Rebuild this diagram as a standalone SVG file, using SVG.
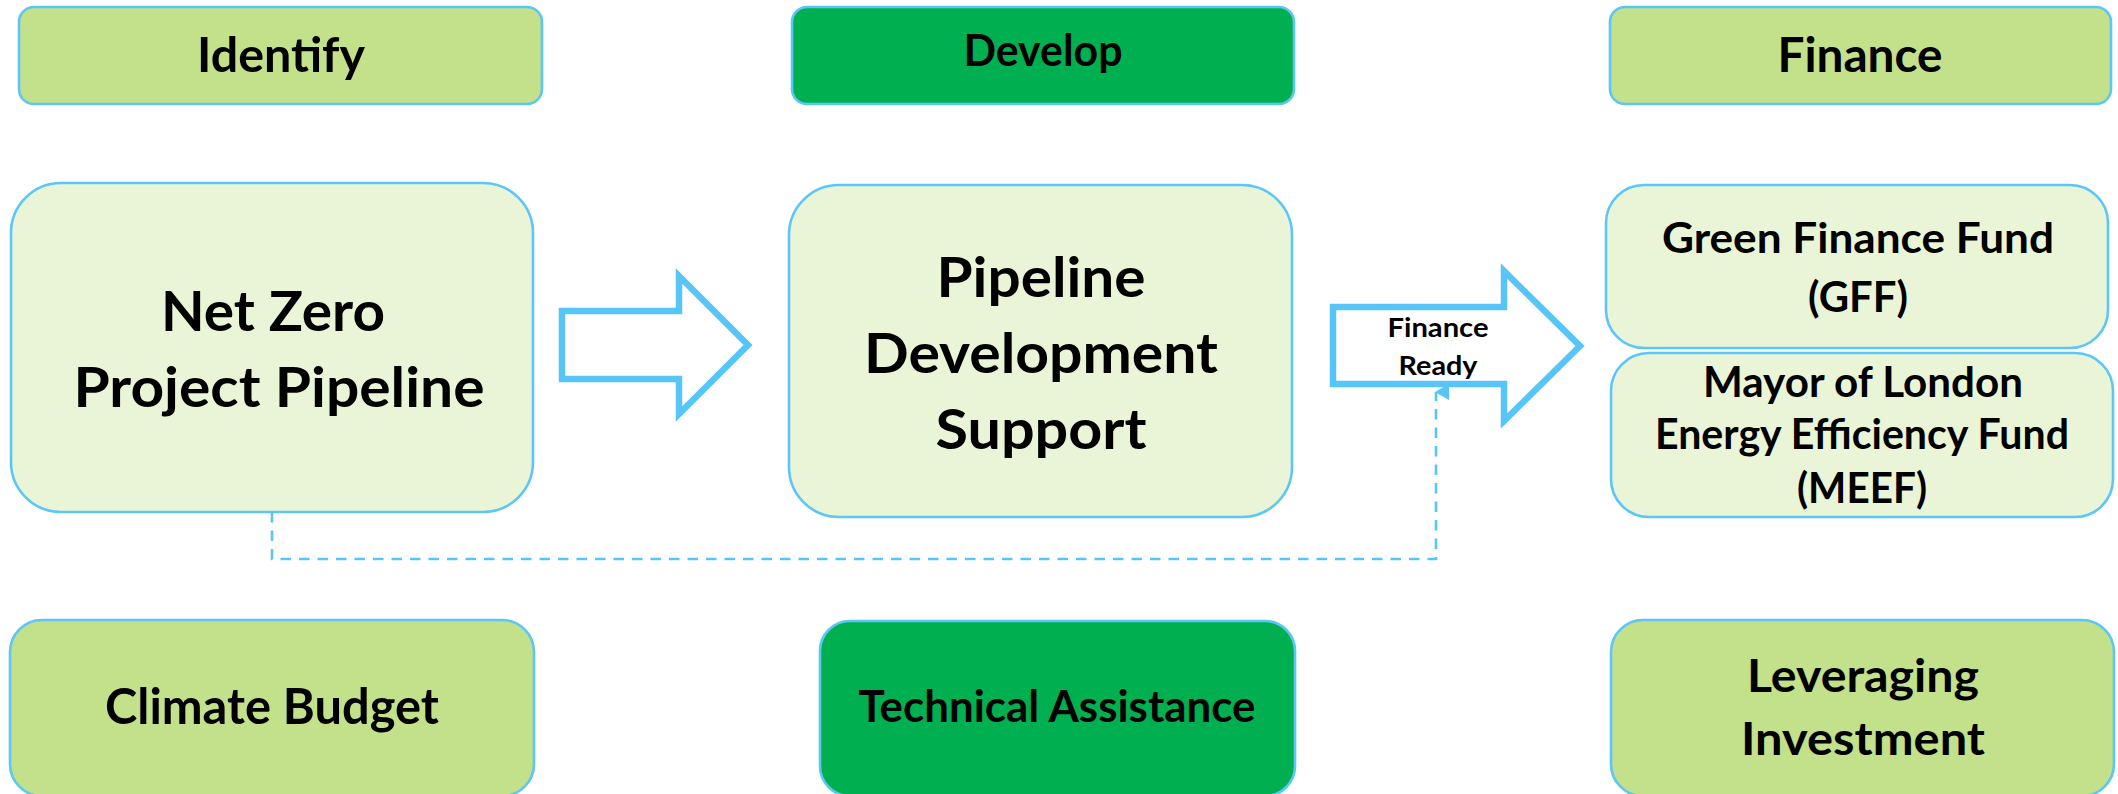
<svg xmlns="http://www.w3.org/2000/svg" width="2118" height="794" viewBox="0 0 2118 794">
  <style>
    .box { stroke: #5BC6F7; stroke-width: 2.6; }
    .hdr { fill: #C3E08A; }
    .dark { fill: #00B050; }
    .pale { fill: #EAF5D8; }
    text { font-family: Lato, "Open Sans", "Liberation Sans", sans-serif; font-weight: bold; fill: #000; text-anchor: middle; }
    .flow { fill: #FFFFFF; stroke: #57C5F8; stroke-width: 6.5; stroke-linejoin: miter; stroke-miterlimit: 10; }
    .dash { fill: none; stroke: #57C5F8; stroke-width: 2.6; stroke-dasharray: 10.5 8; }
  </style>
  <defs>
    <marker id="tip" viewBox="0 0 16 14" refX="8" refY="1" markerWidth="16" markerHeight="14" markerUnits="userSpaceOnUse" orient="auto-start-reverse">
      <path d="M8 0 L16 14 L0 14 Z" fill="#57C5F8"/>
    </marker>
  </defs>
  <rect width="2118" height="794" fill="#FFFFFF"/>

  <!-- column headers -->
  <g id="identify">
    <rect class="box hdr" x="19" y="7" width="523" height="97" rx="15"/>
    <text x="281" y="72" font-size="48" textLength="168" lengthAdjust="spacingAndGlyphs">Identify</text>
  </g>
  <g id="develop">
    <rect class="box dark" x="792" y="7" width="502" height="97" rx="15"/>
    <text x="1043" y="66" font-size="44" textLength="159" lengthAdjust="spacingAndGlyphs">Develop</text>
  </g>
  <g id="finance">
    <rect class="box hdr" x="1610" y="7" width="501" height="97" rx="15"/>
    <text x="1860" y="72" font-size="48" textLength="165" lengthAdjust="spacingAndGlyphs">Finance</text>
  </g>

  <!-- main row -->
  <g id="net-zero-pipeline">
    <rect class="box pale" x="11" y="183" width="522" height="329" rx="50"/>
    <text x="273" y="331" font-size="56" textLength="224" lengthAdjust="spacingAndGlyphs">Net Zero</text>
    <text x="279" y="407" font-size="56" textLength="411" lengthAdjust="spacingAndGlyphs">Project Pipeline</text>
  </g>
  <g id="pipeline-development-support">
    <rect class="box pale" x="789" y="185" width="503" height="332" rx="50"/>
    <text x="1041" y="297" font-size="56" textLength="209" lengthAdjust="spacingAndGlyphs">Pipeline</text>
    <text x="1041" y="373" font-size="56" textLength="354" lengthAdjust="spacingAndGlyphs">Development</text>
    <text x="1041" y="449" font-size="56" textLength="211" lengthAdjust="spacingAndGlyphs">Support</text>
  </g>
  <g id="green-finance-fund">
    <rect class="box pale" x="1606" y="185" width="502" height="163" rx="38"/>
    <text x="1858" y="253" font-size="42" textLength="392" lengthAdjust="spacingAndGlyphs">Green Finance Fund</text>
    <text x="1858" y="312" font-size="42" textLength="100" lengthAdjust="spacingAndGlyphs">(GFF)</text>
  </g>
  <g id="meef">
    <rect class="box pale" x="1611" y="353" width="502" height="164" rx="38"/>
    <text x="1863" y="397" font-size="42" textLength="320" lengthAdjust="spacingAndGlyphs">Mayor of London</text>
    <text x="1862" y="449" font-size="42" textLength="414" lengthAdjust="spacingAndGlyphs">Energy Efficiency Fund</text>
    <text x="1862" y="503" font-size="42" textLength="130" lengthAdjust="spacingAndGlyphs">(MEEF)</text>
  </g>

  <!-- bottom row -->
  <g id="climate-budget">
    <rect class="box hdr" x="10" y="620" width="524" height="176" rx="32"/>
    <text x="272" y="724" font-size="49" textLength="334" lengthAdjust="spacingAndGlyphs">Climate Budget</text>
  </g>
  <g id="technical-assistance">
    <rect class="box dark" x="820" y="621" width="475" height="175" rx="30"/>
    <text x="1057" y="722" font-size="43" textLength="397" lengthAdjust="spacingAndGlyphs">Technical Assistance</text>
  </g>
  <g id="leveraging-investment">
    <rect class="box hdr" x="1611" y="620" width="503" height="176" rx="32"/>
    <text x="1863" y="692" font-size="46" textLength="232" lengthAdjust="spacingAndGlyphs">Leveraging</text>
    <text x="1863" y="755" font-size="46" textLength="244" lengthAdjust="spacingAndGlyphs">Investment</text>
  </g>

  <!-- connectors -->
  <g id="connectors">
    <polygon id="to-development" class="flow" points="562,311 679,311 679,276 748,345 679,414 679,379 562,379"/>
    <path id="feedback" class="dash" d="M272 512 V559 H1436 V392" marker-end="url(#tip)"/>
    <g id="finance-ready">
      <polygon class="flow" points="1333,307 1504,307 1504,271 1580,346 1504,421 1504,384 1333,384"/>
      <text x="1438" y="337" font-size="27" textLength="101" lengthAdjust="spacingAndGlyphs">Finance</text>
      <text x="1438" y="375" font-size="27" textLength="79" lengthAdjust="spacingAndGlyphs">Ready</text>
    </g>
  </g>
</svg>
